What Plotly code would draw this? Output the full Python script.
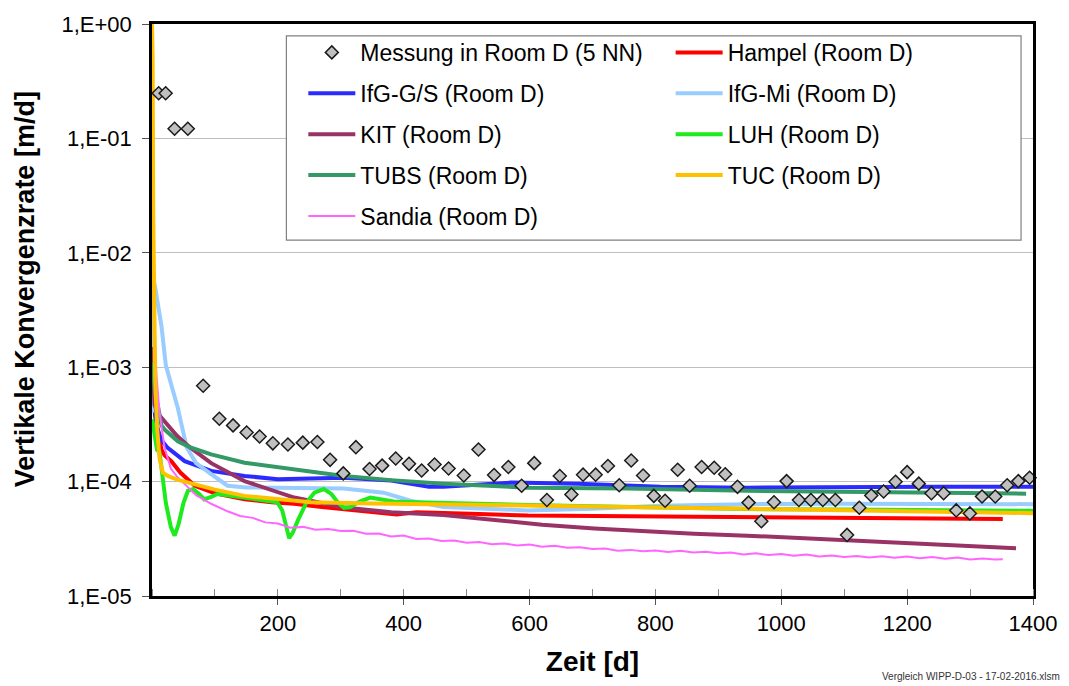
import plotly.graph_objects as go

# ---------------- data ----------------
# Measured convergence rate, Room D (5 NN)
mess_day = [10.6, 21.7, 35.9, 56.9, 81.3, 107, 128.8, 150.4, 171, 192, 216, 239.6, 262.8,
            283, 304, 324, 345.7, 365.7, 387.3, 408.4, 428.5, 449, 471.3, 495.5, 518.8,
            543.6, 566.3, 587.4, 607.4, 627.5, 648, 666.5, 685, 705, 724.5, 742.5, 761.5,
            780.4, 797.4, 815.3, 835.4, 854.4, 873.4, 893.4, 910.9, 930.4, 948, 968.3,
            988.4, 1008.4, 1028, 1047, 1066, 1086, 1104.5, 1124, 1143, 1162.6, 1181.6,
            1200, 1218.5, 1238.6, 1258, 1278, 1299.7, 1319, 1340, 1359, 1376.7, 1394.6]
mess_val = [0.248, 0.248, 0.1214, 0.1214, 6.88e-4, 3.54e-4, 3.10e-4, 2.69e-4, 2.48e-4,
            2.16e-4, 2.11e-4, 2.19e-4, 2.22e-4, 1.55e-4, 1.18e-4, 2.0e-4, 1.29e-4, 1.38e-4,
            1.59e-4, 1.43e-4, 1.25e-4, 1.41e-4, 1.30e-4, 1.13e-4, 1.91e-4, 1.14e-4, 1.34e-4,
            9.2e-5, 1.45e-4, 6.9e-5, 1.12e-4, 7.7e-5, 1.15e-4, 1.15e-4, 1.37e-4, 9.3e-5,
            1.53e-4, 1.13e-4, 7.5e-5, 6.8e-5, 1.27e-4, 9.2e-5, 1.34e-4, 1.32e-4, 1.16e-4,
            9.0e-5, 6.55e-5, 4.5e-5, 6.6e-5, 1.01e-4, 6.9e-5, 6.9e-5, 6.9e-5, 6.9e-5,
            3.42e-5, 5.9e-5, 7.55e-5, 8.2e-5, 9.98e-5, 1.21e-4, 9.6e-5, 7.9e-5, 7.9e-5,
            5.6e-5, 5.27e-5, 7.4e-5, 7.4e-5, 9.3e-5, 1.01e-4, 1.08e-4]

# Model results, Room D
hampel_day = [0, 2, 5, 10, 15, 20, 31, 45, 68, 100, 147, 190, 226, 270, 305, 350, 389,
              420, 463, 520, 597, 700, 800, 946, 1100, 1250, 1352]
hampel_val = [1.2e-3, 6e-4, 3.8e-4, 2.6e-4, 1.9e-4, 1.7e-4, 1.5e-4, 1.2e-4, 9.2e-5, 7.9e-5,
              7.0e-5, 6.6e-5, 6.4e-5, 6.0e-5, 5.75e-5, 5.5e-5, 5.15e-5, 5.4e-5, 5.35e-5,
              5.2e-5, 5.05e-5, 5.0e-5, 4.95e-5, 4.86e-5, 4.8e-5, 4.75e-5, 4.72e-5]

ifg_gs_day = [0, 3, 8, 15, 25, 52, 94, 147, 200, 250, 305, 380, 440, 463, 500, 571, 677,
              808, 946, 1088, 1250, 1400]
ifg_gs_val = [8e-4, 4.5e-4, 3e-4, 2.3e-4, 1.97e-4, 1.51e-4, 1.24e-4, 1.12e-4, 1.05e-4,
              1.06e-4, 1.08e-4, 1.02e-4, 9.0e-5, 9.0e-5, 9.3e-5, 9.8e-5, 9.6e-5, 9.0e-5,
              8.85e-5, 9.0e-5, 9.0e-5, 9.0e-5]

ifg_mi_day = [0, 2, 5, 10, 15, 22, 30, 41, 55, 70, 94, 120, 150, 200, 305, 368, 411, 463,
              597, 700, 809, 946, 1100, 1400]
ifg_mi_val = [4e-4, 6e-3, 5e-3, 3.5e-3, 2.3e-3, 1.04e-3, 7e-4, 4.4e-4, 2e-4, 1.45e-4,
              1.16e-4, 9.2e-5, 8.9e-5, 8.85e-5, 8.7e-5, 8.0e-5, 6.8e-5, 6.0e-5, 5.6e-5,
              5.8e-5, 6.15e-5, 6.35e-5, 6.4e-5, 6.35e-5]

kit_day = [0, 4, 10, 20, 40, 60, 94, 147, 226, 305, 380, 463, 545, 620, 703, 861, 946,
           1104, 1247, 1373]
kit_val = [1.5e-3, 4.7e-4, 3.9e-4, 3.36e-4, 2.5e-4, 2e-4, 1.45e-4, 1.01e-4, 7.25e-5,
           5.95e-5, 5.4e-5, 5.1e-5, 4.6e-5, 4.2e-5, 3.9e-5, 3.5e-5, 3.37e-5, 3.05e-5,
           2.82e-5, 2.62e-5]

luh_day = [0, 5, 8, 12, 16, 22, 30, 36, 42, 50, 57, 65, 75, 83, 95, 104, 120, 147, 175,
           199, 207, 213, 218, 224, 232, 245, 258, 273, 285, 295, 305, 315, 330, 347, 365,
           384, 420, 463, 530, 600, 700, 800, 946, 1100, 1250, 1400]
luh_val = [3.5e-4, 2.2e-4, 1.9e-4, 1.8e-4, 1.2e-4, 6.5e-5, 4e-5, 3.37e-5, 4.2e-5, 6.5e-5,
           8.3e-5, 8.6e-5, 7.8e-5, 7.0e-5, 7.4e-5, 7.8e-5, 7.6e-5, 7.25e-5, 6.9e-5, 6.6e-5,
           5.6e-5, 4.0e-5, 3.2e-5, 3.6e-5, 4.6e-5, 6.5e-5, 8.0e-5, 8.6e-5, 7.8e-5, 6.6e-5,
           5.9e-5, 6.0e-5, 6.7e-5, 7.25e-5, 7.0e-5, 6.7e-5, 6.6e-5, 6.5e-5, 6.4e-5, 6.25e-5,
           6.1e-5, 5.95e-5, 5.75e-5, 5.7e-5, 5.6e-5, 5.55e-5]

tubs_day = [0, 5, 10, 15, 20, 41, 60, 94, 147, 226, 305, 380, 463, 597, 755, 946, 1100,
            1250, 1389]
tubs_val = [1.1e-3, 6e-4, 4.4e-4, 3.1e-4, 2.85e-4, 2.25e-4, 2.0e-4, 1.73e-4, 1.46e-4,
            1.28e-4, 1.12e-4, 1.03e-4, 9.6e-5, 8.85e-5, 8.7e-5, 8.3e-5, 8.1e-5, 8.0e-5,
            7.85e-5]

tuc_day = [0, 1, 2, 3, 5, 8, 12, 17, 25, 40, 68, 100, 147, 200, 252, 350, 463, 600, 800,
           946, 1100, 1250, 1400]
tuc_val = [1.0, 0.5, 2e-2, 3e-3, 8e-4, 3e-4, 1.6e-4, 1.2e-4, 1.12e-4, 1.04e-4, 9.5e-5,
           8.5e-5, 7.5e-5, 7.0e-5, 6.6e-5, 6.45e-5, 6.3e-5, 6.1e-5, 5.95e-5, 5.8e-5, 5.6e-5,
           5.45e-5, 5.3e-5]

sandia_day = [0, 3, 7, 12, 20, 30, 40, 52, 70, 94, 120, 140, 160, 180, 200, 220, 240, 260,
              280, 300, 320, 340, 360, 380, 400, 420, 440, 460, 480, 500, 520, 540, 560,
              580, 600, 620, 640, 660, 680, 700, 720, 740, 760, 780, 800, 820, 840, 860,
              880, 900, 920, 940, 960, 980, 1000, 1020, 1040, 1060, 1080, 1100, 1120,
              1140, 1160, 1180, 1200, 1220, 1240, 1260, 1280, 1300, 1320, 1340, 1352]
sandia_val = [7.5e-3, 2.5e-3, 8.6e-4, 4e-4, 1.97e-4, 1.3e-4, 1.1e-4, 9.5e-5, 7.6e-5, 6.4e-5,
              5.5e-5, 5.0e-5, 4.82e-5, 4.40e-5, 4.30e-5, 3.95e-5, 4.02e-5, 3.80e-5, 3.85e-5,
              3.70e-5, 3.72e-5, 3.50e-5, 3.52e-5, 3.32e-5, 3.38e-5, 3.15e-5, 3.18e-5,
              3.02e-5, 3.06e-5, 2.92e-5, 2.96e-5, 2.84e-5, 2.88e-5, 2.76e-5, 2.82e-5,
              2.70e-5, 2.75e-5, 2.64e-5, 2.67e-5, 2.57e-5, 2.60e-5, 2.49e-5, 2.53e-5,
              2.46e-5, 2.50e-5, 2.43e-5, 2.48e-5, 2.40e-5, 2.44e-5, 2.37e-5, 2.40e-5,
              2.31e-5, 2.36e-5, 2.28e-5, 2.33e-5, 2.25e-5, 2.30e-5, 2.22e-5, 2.26e-5,
              2.19e-5, 2.24e-5, 2.17e-5, 2.23e-5, 2.16e-5, 2.21e-5, 2.14e-5, 2.19e-5,
              2.12e-5, 2.17e-5, 2.09e-5, 2.13e-5, 2.08e-5, 2.1e-5]

y_tickvals = [1e-5, 1e-4, 1e-3, 1e-2, 1e-1, 1]
y_ticktext = ["1,E-05", "1,E-04", "1,E-03", "1,E-02", "1,E-01", "1,E+00"]
x_tickvals = [200, 400, 600, 800, 1000, 1200, 1400]

# ---------------- layout geometry (pixels) ----------------
W, H = 1069, 686
ML, MR, MT, MB = 152, 32, 19, 90
PW, PH = W - ML - MR, H - MT - MB


def fx(p):
    return (p - ML) / PW


def fy(p):
    return (H - MB - p) / PH


FONT = "Liberation Sans, Arial, sans-serif"

fig = go.Figure()

# (name, days, values, colour, width, legend, rank)
series = [
    ("Hampel (Room D)", hampel_day, hampel_val, "#FF0000", 4, "legend2", 1),
    ("IfG-G/S (Room D)", ifg_gs_day, ifg_gs_val, "#2B2BFF", 4, "legend", 2),
    ("IfG-Mi (Room D)", ifg_mi_day, ifg_mi_val, "#99CCFF", 4, "legend2", 2),
    ("KIT (Room D)", kit_day, kit_val, "#993366", 4, "legend", 3),
    ("LUH (Room D)", luh_day, luh_val, "#1EEB1E", 4, "legend2", 3),
    ("TUBS (Room D)", tubs_day, tubs_val, "#339966", 4, "legend", 4),
    ("Sandia (Room D)", sandia_day, sandia_val, "#FF66FF", 2, "legend", 5),
    ("TUC (Room D)", tuc_day, tuc_val, "#FFC000", 4, "legend2", 4),
]
for name, d, v, col, lw, leg, rank in series:
    fig.add_trace(go.Scatter(
        x=d, y=v, mode="lines", name=name,
        line=dict(color=col, width=lw),
        legend=leg, legendgroup=name, legendrank=rank,
    ))

fig.add_trace(go.Scatter(
    x=mess_day, y=mess_val, mode="markers", name="Messung in Room D (5 NN)",
    marker=dict(symbol="diamond", size=10, color="#C0C0C0",
                line=dict(color="#1A1A1A", width=1.5)),
    legend="legend", legendgroup="mess", legendrank=1, cliponaxis=False,
))

legend_common = dict(
    font=dict(family=FONT, size=23, color="#000000"),
    bgcolor="rgba(0,0,0,0)", borderwidth=0, orientation="v",
    traceorder="grouped", tracegroupgap=8, itemwidth=47,
    xanchor="left", yanchor="top", y=fy(26),
)

fig.update_layout(
    width=W, height=H,
    margin=dict(l=ML, r=MR, t=MT, b=MB, pad=0),
    paper_bgcolor="white", plot_bgcolor="white",
    font=dict(family=FONT, color="#000000"),
    showlegend=True,
    legend=dict(x=fx(304), **legend_common),
    legend2=dict(x=fx(673), **legend_common),
    xaxis=dict(
        range=[0, 1400], tickmode="array", tickvals=x_tickvals,
        ticks="outside", ticklen=6, tickwidth=1, tickcolor="#555555",
        minor=dict(tickmode="array", tickvals=list(range(0, 1401, 100)),
                   ticks="inside", ticklen=7, tickcolor="#888888", showgrid=False),
        showgrid=False, zeroline=False,
        showline=True, linecolor="#000000", linewidth=3, mirror=True,
        tickfont=dict(family=FONT, size=22, color="#000000"),
        title=dict(text="Zeit [d]", standoff=16,
                   font=dict(family=FONT, size=28, color="#000000", weight="bold")),
    ),
    yaxis=dict(
        type="log", range=[-5, 0], tickmode="array",
        tickvals=y_tickvals, ticktext=y_ticktext,
        ticks="outside", ticklen=7, tickwidth=1, tickcolor="#555555",
        ticklabelstandoff=6,
        showgrid=True, gridcolor="#BFBFBF", gridwidth=1.3, zeroline=False,
        showline=True, linecolor="#000000", linewidth=2.5, mirror=True,
        tickfont=dict(family=FONT, size=22, color="#000000"),
    ),
    shapes=[dict(
        type="rect", xref="paper", yref="paper",
        x0=fx(287), x1=fx(1025), y0=fy(237), y1=fy(31),
        line=dict(color="#808080", width=1.2), fillcolor="white", layer="above",
    )],
    annotations=[
        dict(
            text="<b>Vertikale Konvergenzrate [m/d]</b>", showarrow=False, textangle=-90,
            xref="paper", yref="paper", x=fx(24), y=fy(287),
            xanchor="center", yanchor="middle",
            font=dict(family=FONT, size=27, color="#000000"),
        ),
        dict(
            text="Vergleich WIPP-D-03 - 17-02-2016.xlsm", showarrow=False,
            xref="paper", yref="paper", x=fx(1066), y=fy(677),
            xanchor="right", yanchor="middle",
            font=dict(family="Liberation Sans Narrow, Liberation Sans, sans-serif",
                      size=10, color="#333333"),
        ),
    ],
)

fig.write_html("out.html")
